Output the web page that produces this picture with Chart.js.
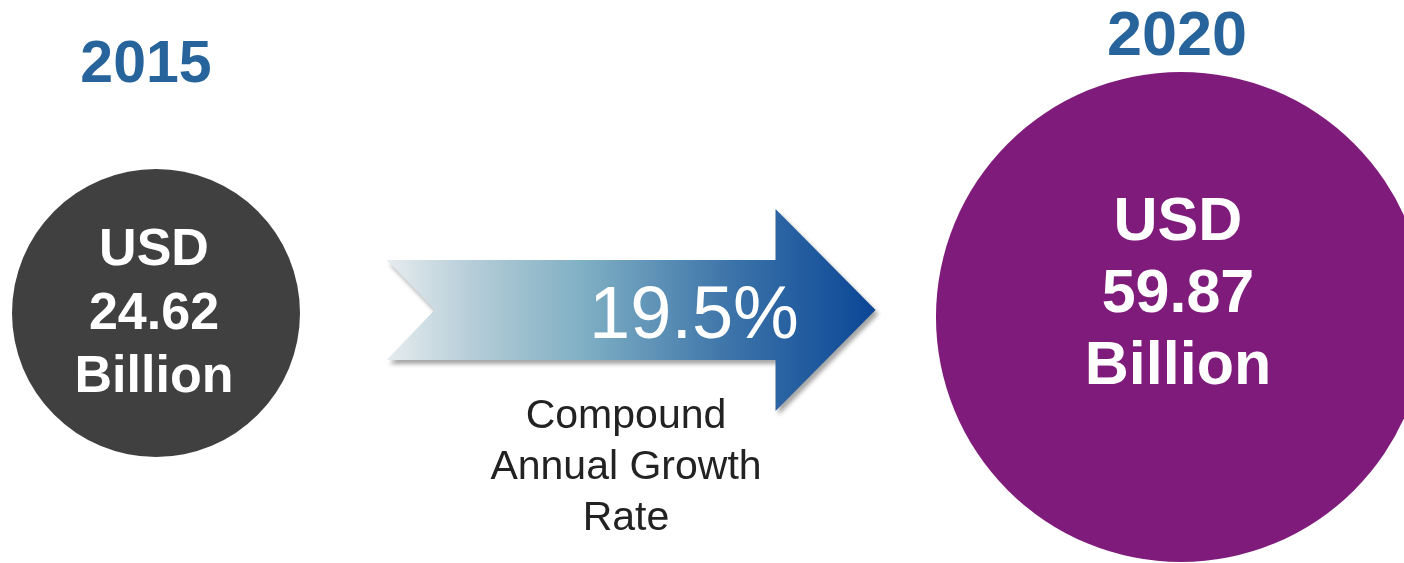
<!DOCTYPE html>
<html>
<head>
<meta charset="utf-8">
<script src="https://cdn.jsdelivr.net/npm/chart.js@4/dist/chart.umd.min.js"></script>
<style>
  html, body { margin: 0; padding: 0; background: #fff; }
  #wrap { width: 1404px; height: 563px; }
</style>
</head>
<body>
<div id="wrap"><canvas id="growthChart" width="1404" height="563"></canvas></div>
<script>
// data
var years = ['2015', '2020'];
var marketValues = [24.62, 59.87];   // USD billion
var cagr = 19.5;                      // percent
var cagrLabel = ['Compound', 'Annual Growth', 'Rate'];

var circleColors = ['#404040', '#7f1c7b'];
var titleColor = '#27649b';
var FONT = '"Liberation Sans", Arial, Helvetica, sans-serif';

// bubble size: area follows value, scaled so the 2020 circle is ~245px
function bubbleRadius(v) {
  var big = 245;
  return Math.round(big * Math.pow(v / marketValues[1], 0.6));
}

var points = marketValues.map(function (v, i) {
  return { x: i, y: i === 0 ? 0.014 : 0, r: bubbleRadius(v) };
});

// arrow + texts
var decorPlugin = {
  id: 'decor',
  beforeDatasetsDraw: function (chart) {
    var ctx = chart.ctx;
    var x = chart.scales.x;
    // arrow sits between the two bubbles
    var x0 = x.getPixelForValue(0.225), x1 = x.getPixelForValue(0.702);
    var notch = 48, headW = 100;
    var yc = 310, bodyH = 50, headH = 101;
    ctx.save();
    var grad = ctx.createLinearGradient(x0, 0, x1, 0);
    grad.addColorStop(0, '#e6ecef');
    grad.addColorStop(0.18, '#b4ccd7');
    grad.addColorStop(0.4, '#80b0c4');
    grad.addColorStop(0.7, '#3d74a9');
    grad.addColorStop(1, '#0a4696');
    ctx.beginPath();
    ctx.moveTo(x0, yc - bodyH);
    ctx.lineTo(x1 - headW, yc - bodyH);
    ctx.lineTo(x1 - headW, yc - headH);
    ctx.lineTo(x1, yc);
    ctx.lineTo(x1 - headW, yc + headH);
    ctx.lineTo(x1 - headW, yc + bodyH);
    ctx.lineTo(x0, yc + bodyH);
    ctx.lineTo(x0 + notch, yc);
    ctx.closePath();
    ctx.shadowColor = 'rgba(0,0,0,0.35)';
    ctx.shadowOffsetX = 3;
    ctx.shadowOffsetY = 4;
    ctx.shadowBlur = 4;
    ctx.fillStyle = grad;
    ctx.fill();
    ctx.restore();

    ctx.save();
    ctx.fillStyle = '#ffffff';
    ctx.textAlign = 'center';
    ctx.textBaseline = 'alphabetic';
    ctx.font = '74px ' + FONT;
    ctx.fillText(cagr.toFixed(1) + '%', 694, 338);

    ctx.fillStyle = '#222222';
    ctx.font = '41px ' + FONT;
    cagrLabel.forEach(function (t, i) {
      ctx.fillText(t, 626, 428 + i * 51);
    });
    ctx.restore();
  },
  afterDatasetsDraw: function (chart) {
    var ctx = chart.ctx;
    var meta = chart.getDatasetMeta(0);
    var cfg = [
      { title: 59, titleX: 146, titleY: 82, size: 52, base: 265, gap: 63.5, dx: -2 },
      { title: 63, titleX: 1177, titleY: 55, size: 61, base: 240, gap: 72, dx: -3 }
    ];
    ctx.save();
    ctx.textAlign = 'center';
    ctx.textBaseline = 'alphabetic';
    meta.data.forEach(function (el, i) {
      var c = cfg[i];
      var cx = el.x + c.dx;
      ctx.fillStyle = titleColor;
      ctx.font = 'bold ' + c.title + 'px ' + FONT;
      ctx.fillText(years[i], c.titleX, c.titleY);
      ctx.fillStyle = '#ffffff';
      ctx.font = 'bold ' + c.size + 'px ' + FONT;
      ['USD', marketValues[i].toFixed(2), 'Billion'].forEach(function (t, k) {
        ctx.fillText(t, cx, c.base + k * c.gap);
      });
    });
    ctx.restore();
  }
};

new Chart(document.getElementById('growthChart'), {
  type: 'bubble',
  data: {
    labels: years,
    datasets: [{
      label: 'Market size',
      data: points,
      backgroundColor: circleColors,
      borderWidth: 0,
      hoverRadius: 0,
      clip: false
    }]
  },
  options: {
    responsive: false,
    animation: false,
    events: [],
    layout: { padding: 0, autoPadding: false },
    plugins: { legend: { display: false }, tooltip: { enabled: false } },
    scales: {
      x: { type: 'linear', display: false, min: -0.1522, max: 1.2176 },
      y: { type: 'linear', display: false, min: -0.874, max: 1.126 }
    }
  },
  plugins: [decorPlugin]
});
</script>
</body>
</html>
